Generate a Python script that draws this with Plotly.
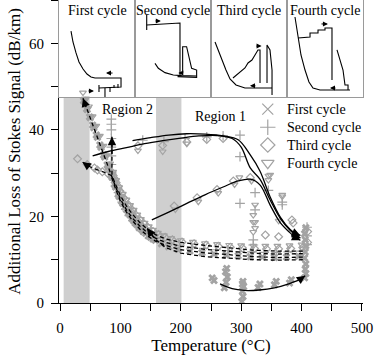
import plotly.graph_objects as go

FONT = "Liberation Serif"
GREY = "#a3a3a3"
BAND = "#cfcfcf"

# ---------------- main-plot data (temperature degC, loss dB/km) ----------------
# first cycle  (x markers)
c1_T = [252, 255, 272, 275, 277, 274, 276, 301, 303, 302, 304, 303, 302, 328, 331, 355, 358, 380, 383, 405, 407,
        406, 407, 405, 406, 407, 406, 405, 407,
        395, 375, 355, 335, 315, 295, 275, 255, 235, 215, 195, 180, 168, 158, 150, 142, 135, 128, 122, 116, 110,
        104, 98, 92, 86, 80, 74, 68, 62, 56, 50, 45, 40,
        39, 44, 49, 54, 60, 66, 72, 78, 84, 90, 96, 102, 107, 113, 119, 125, 131, 138, 146, 154]
c1_L = [5.8, 5.2, 3.5, 4.8, 6.0, 7.2, 8.0, 0.3, 1.5, 2.7, 3.8, 5.0, 4.4, 3.6, 4.4, 4.2, 5.0, 4.6, 5.4, 5.8, 6.8,
        7.8, 9.0, 10.4, 11.8, 13.2, 14.6, 16.0, 17.4,
        10.8, 10.6, 10.5, 10.6, 10.7, 10.9, 11.1, 11.3, 11.6, 12.0, 12.4, 13.0, 13.7, 14.5, 15.2, 16.1, 17.0, 18.0,
        19.0, 20.3, 21.6, 23.0, 24.6, 26.8, 29.1, 31.4, 33.7, 36.0, 38.3, 40.5, 42.8, 44.7, 46.6,
        46.8, 44.9, 43.0, 41.1, 38.8, 36.5, 34.2, 31.9, 29.7, 27.4, 25.1, 23.5, 22.2, 20.8, 19.5, 18.4, 17.4,
        16.5, 15.5, 14.8]

# second cycle (+ markers)
c2_T = [137, 172, 207, 243, 270, 298, 298, 298, 323, 323, 320, 320, 345, 368, 368, 409, 409, 409,
        398, 378, 358, 338, 318, 298, 278, 258, 238, 218, 198, 182, 170, 160, 152, 144, 137, 130, 124, 118, 112,
        106, 100, 95, 90, 86, 85, 85, 85, 85, 85, 85, 85,
        88, 92, 97, 103, 109, 115, 121, 127, 134]
c2_L = [37.6, 37.3, 38.0, 38.4, 38.6, 38.8, 33.8, 23.0, 25.5, 21.5, 14.6, 13.4, 26.0, 23.3, 22.7, 13.5, 15.5, 17.5,
        12.0, 11.8, 11.7, 11.7, 11.8, 11.9, 12.1, 12.3, 12.6, 12.9, 13.3, 13.8, 14.4, 15.0, 15.8, 16.7, 17.5,
        18.5, 19.5, 20.7, 22.0, 23.4, 24.9, 26.5, 28.3, 29.8, 32.0, 34.0, 36.0, 38.0, 40.0, 41.3, 42.5,
        28.9, 27.2, 25.5, 23.3, 21.6, 20.2, 19.0, 18.0, 16.9]

# third cycle (diamond markers)
c3_T = [129, 170, 210, 243, 270, 189, 227, 260, 287, 315, 340, 362, 384, 386, 410, 410,
        402, 382, 362, 342, 322, 302, 282, 262, 242, 222, 202, 186, 174, 163, 154, 146, 139, 132, 126, 120, 114,
        108, 102, 96, 91, 86, 80, 70, 62, 57, 45, 29,
        88, 93, 99, 105, 111, 117, 123, 129, 136, 143, 150]
c3_L = [36.3, 36.4, 37.2, 37.8, 38.0, 22.4, 24.3, 26.2, 28.2, 29.0, 15.7, 15.3, 19.2, 18.5, 16.5, 14.0,
        12.8, 12.6, 12.5, 12.5, 12.6, 12.7, 12.9, 13.1, 13.4, 13.7, 14.1, 14.6, 15.2, 15.8, 16.5, 17.4, 18.3,
        19.3, 20.3, 21.4, 22.6, 23.9, 25.3, 27.0, 28.6, 30.2, 29.8, 30.3, 30.7, 31.2, 32.0, 33.3,
        29.4, 27.8, 25.9, 24.2, 22.6, 21.2, 19.9, 18.9, 17.8, 16.9, 16.1]

# fourth cycle (triangle-down markers)
c4_T = [129, 170, 210, 191, 229, 262, 289, 317, 297, 323, 320, 320, 320, 345, 345, 348, 368, 368, 362, 323, 323,
        400, 380, 360, 340, 320, 300, 280, 260, 240, 220, 200, 184, 172, 162, 154, 147, 140, 134, 128, 122, 116,
        110, 104, 98, 93, 88, 83, 78, 72, 66, 60, 54, 48, 43, 38,
        41, 46, 51, 57, 63, 69, 75, 81, 86, 91, 96, 101, 107, 113, 119, 125, 131, 137, 144, 151]
c4_L = [35.2, 35.0, 36.8, 21.6, 23.4, 25.4, 27.4, 28.2, 29.0, 22.7, 20.3, 18.7, 16.4, 29.4, 28.4, 29.6, 25.0, 24.6,
        19.0, 17.3, 18.7,
        13.5, 13.3, 13.2, 13.2, 13.2, 13.3, 13.4, 13.6, 13.8, 14.1, 14.5, 15.0, 15.6, 16.2, 16.9, 17.7, 18.5, 19.4,
        20.4, 21.5, 22.6, 23.9, 25.2, 26.7, 28.4, 30.3, 32.2, 34.1, 36.3, 38.6, 40.9, 43.1, 45.4, 47.2, 48.6,
        46.8, 44.9, 43.0, 40.8, 38.5, 36.2, 34.0, 31.7, 29.8, 27.9, 26.1, 24.6, 23.0, 21.6, 20.3, 19.2, 18.2,
        17.3, 16.4, 15.6]

# heating curves (solid) and cooling curves (dashed)
S1_T = [120, 150, 180, 210, 240, 270, 295, 315, 331, 348, 365, 381, 391, 398]
S1_L = [37.5, 38.2, 38.8, 39.1, 39.0, 38.6, 37.7, 34.2, 30.5, 24.5, 19.8, 17.0, 16.0, 15.6]
S2_T = [54, 80, 110, 140, 170, 200, 230, 260, 285, 300, 315, 331, 348, 365, 381, 391, 398]
S2_L = [34.0, 35.0, 35.9, 36.8, 37.5, 38.1, 38.6, 38.7, 38.0, 36.0, 31.2, 28.6, 23.8, 19.5, 16.8, 15.6, 15.0]
S3_T = [152, 180, 210, 240, 270, 295, 315, 331, 348, 365, 381, 391, 398]
S3_L = [19.2, 21.0, 23.0, 25.0, 26.8, 28.2, 28.6, 27.3, 22.6, 18.5, 16.2, 15.0, 14.5]
S4_T = [265, 285, 305, 330, 355, 380, 398, 406]
S4_L = [4.4, 3.3, 2.9, 3.0, 3.5, 4.5, 5.5, 6.3]

D1_T = [402, 360, 320, 280, 240, 200, 175, 158, 145, 132, 120, 110, 100, 90, 80, 70, 60, 50, 44, 38]
D1_L = [11.4, 11.3, 11.5, 11.9, 12.4, 13.1, 14.0, 15.0, 16.2, 17.8, 19.6, 21.5, 24.0, 27.6, 31.3, 35.0, 38.8,
        42.6, 44.9, 47.3]
D2_T = [402, 360, 320, 280, 240, 200, 175, 158, 145, 132, 120, 110, 100, 92, 86, 86, 86]
D2_L = [10.6, 10.5, 10.7, 11.1, 11.6, 12.3, 13.3, 14.3, 15.5, 17.1, 19.0, 21.0, 23.5, 26.4, 28.8, 34.0, 38.4]
D3_T = [402, 360, 320, 280, 240, 200, 175, 158, 145, 132, 120, 110, 100, 92, 86, 75, 63, 52, 44, 37]
D3_L = [12.0, 12.0, 12.2, 12.7, 13.3, 14.0, 14.8, 15.8, 17.0, 18.6, 20.5, 22.4, 24.8, 27.4, 29.4, 30.1, 30.7,
        31.3, 31.9, 32.6]
D4_T = [402, 360, 320, 280, 240, 200, 175, 157, 144]
D4_L = [10.0, 9.9, 10.0, 10.3, 10.7, 11.5, 12.8, 14.8, 17.3]

region_bands = [(6, 49), (159, 201)]
band_top = 47.5
region_labels = ["Region 2", "Region 1"]
region_label_T = [112, 265]
region_label_L = [44.8, 43.2]

x_tickvals = [0, 50, 100, 150, 200, 250, 300, 350, 400, 450, 500]
x_ticktext = ["0", "", "100", "", "200", "", "300", "", "400", "", "500"]
y_tickvals = [0, 10, 20, 30, 40, 50, 60, 70]
y_ticktext = ["0", "", "20", "", "40", "", "60", ""]

# legend key (drawn in the main axes)
legend_names = ["First cycle", "Second cycle", "Third cycle", "Fourth cycle"]
legend_symbols = ["x-thin-open", "cross-thin-open", "diamond-open", "triangle-down-open"]
legend_key_T = 344
legend_text_T = 372
legend_row_L = [44.8, 40.6, 36.5, 32.3]

# ---------------- inset data (normalised units 0-100) ----------------
inset_titles = ["First cycle", "Second cycle", "Third cycle", "Fourth cycle"]
in1_x = [15.8, 18.4, 22.4, 26.3, 31.6, 36.8, 42.1, 47.4, 81.6, 81.6, 52.6, None, 52.6, 52.6, None, 60.5, 60.5,
         None, 67.1, 67.1, None, 72.4, 72.4, None, 77.6, 77.6]
in1_y = [68.0, 56.7, 45.4, 36.1, 28.9, 23.7, 20.6, 19.6, 19.6, 10.3, 9.3, None, 12.4, 5.2, None, 9.3, 0.0,
         None, 9.3, 5.2, None, 9.3, 12.4, None, 9.3, 13.4]
in1_arrows = [(72.4, 24.7, 61.8, 24.7), (36.8, 6.2, 46.0, 6.2)]

in2_x = [15.4, 15.4, None, 15.4, 59.2, 59.2, None, 62.7, 62.7, 67.9, 74.5, 81.1, 81.1, 56.0, None, 26.3, 30.7,
         39.5, 50.4, 61.2, 81.1]
in2_y = [84.5, 69.1, None, 74.2, 76.3, 22.7, None, 24.7, 51.8, 51.8, 29.6, 27.8, 20.3, 21.0, None, 34.7, 29.6,
         25.1, 22.7, 22.0, 21.6]
in2_arrows = [(25.0, 78.4, 34.0, 78.4), (65.0, 24.7, 57.0, 24.7)]

in3_x = [5.3, 9.2, 14.5, 19.7, 25.0, 32.9, 44.7, 80.3, None, 28.9, 38.2, 44.7, 48.7, 53.9, 57.9, 61.8, 64.5, 64.5,
         None, 73.7, 73.7, 77.6, 78.9, 80.3, 80.3]
in3_y = [56.7, 48.5, 38.1, 27.8, 18.6, 12.4, 9.3, 9.3, None, 19.6, 25.8, 29.9, 35.1, 38.1, 43.3, 48.5, 48.5, 14.4,
         None, 14.4, 53.6, 48.5, 38.1, 27.8, 2.0]
in3_arrows = [(57.9, 52.5, 66.5, 52.5), (60.5, 11.5, 51.3, 11.5)]

in4_x = [10.5, 14.5, 18.4, 23.7, 28.9, 34.2, 43.4, 82.9, None, 14.5, 30.3, 30.3, 40.8, 40.8, 50.0, 50.0, 59.2,
         59.2, None, 65.8, 71.0, 73.7, 76.3, 80.3, 80.3]
in4_y = [82.5, 63.9, 43.3, 27.8, 15.5, 9.3, 7.2, 7.2, None, 60.8, 61.9, 66.0, 66.0, 69.1, 69.1, 71.1, 71.1, 17.5,
         None, 48.5, 33.0, 27.8, 12.4, 12.4, 7.2]
in4_arrows = [(43.4, 75.3, 53.9, 75.3), (65.8, 9.2, 56.6, 9.2)]

# ---------------- figure ----------------
fig = go.Figure()

marker_line = dict(color=GREY, width=1.2)
fig.add_trace(go.Scatter(x=c1_T, y=c1_L, mode="markers", showlegend=False,
                         marker=dict(symbol="x", size=7, color=GREY, line=dict(width=0))))
fig.add_trace(go.Scatter(x=c2_T, y=c2_L, mode="markers", showlegend=False,
                         marker=dict(symbol="cross-thin-open", size=7, color=GREY, line=marker_line)))
fig.add_trace(go.Scatter(x=c3_T, y=c3_L, mode="markers", showlegend=False,
                         marker=dict(symbol="diamond-open", size=6, color=GREY, line=marker_line)))
fig.add_trace(go.Scatter(x=c4_T, y=c4_L, mode="markers", showlegend=False,
                         marker=dict(symbol="triangle-down-open", size=6, color=GREY, line=marker_line)))

for T, L in [(S1_T, S1_L), (S2_T, S2_L), (S3_T, S3_L), (S4_T, S4_L)]:
    fig.add_trace(go.Scatter(x=T, y=L, mode="lines", showlegend=False, line_shape="spline",
                             line=dict(color="black", width=1.3)))
for T, L in [(D1_T, D1_L), (D2_T, D2_L), (D3_T, D3_L), (D4_T, D4_L)]:
    fig.add_trace(go.Scatter(x=T, y=L, mode="lines", showlegend=False,
                             line=dict(color="black", width=1.3, dash="4px,3px")))

# legend key
fig.add_trace(go.Scatter(x=[legend_key_T] * len(legend_names), y=legend_row_L, mode="markers",
                         showlegend=False, hoverinfo="skip",
                         marker=dict(symbol=legend_symbols, size=11, color=GREY,
                                     line=dict(color=GREY, width=1.2))))
for name, L in zip(legend_names, legend_row_L):
    fig.add_annotation(x=legend_text_T, y=L, xref="x", yref="y", text=name, showarrow=False,
                       xanchor="left", yanchor="middle", font=dict(family=FONT, size=14, color="black"))


# arrows at the ends of the curves
def add_arrow(T, L, xref="x", yref="y", size=1.3):
    fig.add_annotation(x=T[-1], y=L[-1], ax=T[-2], ay=L[-2], xref=xref, yref=yref, axref=xref, ayref=yref,
                       showarrow=True, arrowhead=2, arrowsize=size, arrowwidth=1.3, arrowcolor="black",
                       standoff=0, text="")


for T, L in [(S1_T, S1_L), (S2_T, S2_L), (S3_T, S3_L), (S4_T, S4_L),
             (D1_T, D1_L), (D2_T, D2_L), (D3_T, D3_L), (D4_T, D4_L)]:
    add_arrow(T, L)

# shaded regions
for (a, b) in region_bands:
    fig.add_shape(type="rect", x0=a, x1=b, y0=0, y1=band_top, xref="x", yref="y",
                  fillcolor=BAND, line=dict(width=0), layer="below")
for txt, tx, ty in zip(region_labels, region_label_T, region_label_L):
    fig.add_annotation(x=tx, y=ty, xref="x", yref="y", text=txt, showarrow=False,
                       font=dict(family=FONT, size=14, color="black"))

# insets
inset_domains = [[0.0, 0.25], [0.25, 0.5], [0.5, 0.75], [0.75, 1.0]]
inset_y_domain = [1 - 97 / 303, 1.0]
insets = [(in1_x, in1_y, in1_arrows), (in2_x, in2_y, in2_arrows), (in3_x, in3_y, in3_arrows),
          (in4_x, in4_y, in4_arrows)]
for i, ((ix, iy, arrs), title, dom) in enumerate(zip(insets, inset_titles, inset_domains)):
    k = i + 2
    xa, ya = f"x{k}", f"y{k}"
    fig.add_trace(go.Scatter(x=ix, y=iy, mode="lines", xaxis=xa, yaxis=ya, showlegend=False,
                             line=dict(color="black", width=1.1), connectgaps=False))
    fig.update_layout(**{
        f"xaxis{k}": dict(domain=dom, range=[0, 100], anchor=ya, showline=True, mirror=True,
                          linecolor="#9a9a9a", linewidth=1, showticklabels=False, ticks="",
                          showgrid=False, zeroline=False),
        f"yaxis{k}": dict(domain=inset_y_domain, range=[0, 100], anchor=xa, showline=True, mirror=True,
                          linecolor="#9a9a9a", linewidth=1, showticklabels=False, ticks="",
                          showgrid=False, zeroline=False),
    })
    for (tx0, ty0, tx1, ty1) in arrs:
        fig.add_annotation(x=tx1, y=ty1, ax=tx0, ay=ty0, xref=xa, yref=ya, axref=xa, ayref=ya,
                           showarrow=True, arrowhead=2, arrowsize=1.0, arrowwidth=1, arrowcolor="black",
                           standoff=0, text="")
    fig.add_annotation(x=0.5, y=0.99, xref=f"x{k} domain", yref=f"y{k} domain", text=title,
                       showarrow=False, yanchor="top", font=dict(family=FONT, size=14, color="black"))

fig.update_layout(
    width=374, height=355,
    margin=dict(l=59, r=11, t=0, b=52),
    paper_bgcolor="white", plot_bgcolor="rgba(0,0,0,0)",
    font=dict(family=FONT, size=15, color="black"),
    showlegend=False,
    xaxis=dict(range=[-1.7, 501.7], tickvals=x_tickvals, ticktext=x_ticktext, ticks="outside", ticklen=7,
               tickcolor="black", showline=True, linecolor="black", linewidth=1, showgrid=False,
               zeroline=False, ticklabelstandoff=4,
               title=dict(text="Temperature (°C)", font=dict(size=17), standoff=4),
               domain=[0, 1]),
    yaxis=dict(range=[0, 70], tickvals=y_tickvals, ticktext=y_ticktext, ticks="outside", ticklen=7,
               tickcolor="black", showline=True, linecolor="black", linewidth=1, showgrid=False,
               zeroline=False, ticklabelstandoff=4,
               title=dict(text="Additional Loss of Stokes Signal (dB/km)", font=dict(size=17),
                          standoff=4), domain=[0, 1]),
)

fig.write_html("out.html", config={"displayModeBar": False},
               post_script="document.body.style.margin='0';document.body.style.padding='0';")
